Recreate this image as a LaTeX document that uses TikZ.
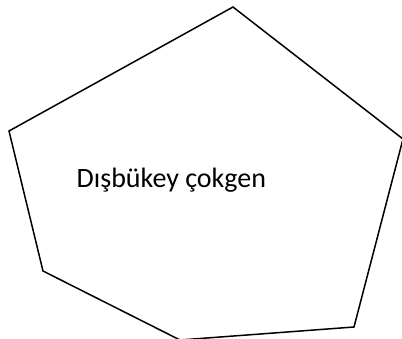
\documentclass[tikz,border=0pt]{standalone}
\usepackage{fontspec}
\setmainfont{Carlito}
\begin{document}
\begin{tikzpicture}[x=1pt,y=-1pt,
  edge/.style={draw=black,line width=1.5pt,line join=miter},
  label/.style={font=\fontsize{28}{32}\selectfont,inner sep=0pt}]
\useasboundingbox (0,0) rectangle (402,338);
\clip (0,0) rectangle (402,338);
\coordinate (p1) at (233,7);
\coordinate (p2) at (403,139);
\coordinate (p3) at (354,327);
\coordinate (p4) at (180,340);
\coordinate (p5) at (43,271);
\coordinate (p6) at (9,131);
\draw[edge] (p1) -- (p2) -- (p3) -- (p4) -- (p5) -- (p6) -- cycle;
\node[label,anchor=base west] (t) at (76.5,187) {Dışbükey çokgen};
\end{tikzpicture}
\end{document}
